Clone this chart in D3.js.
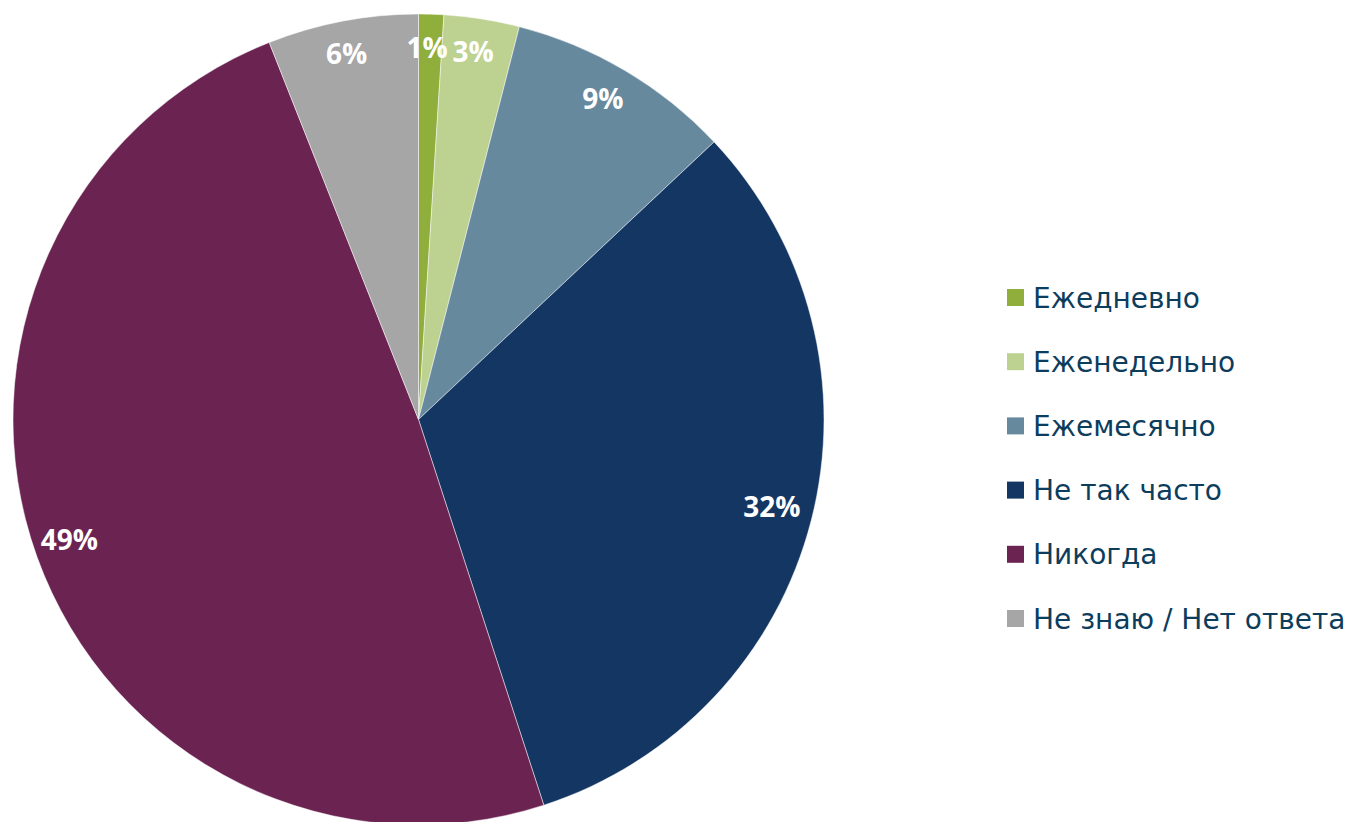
<!DOCTYPE html>
<html><head><meta charset="utf-8">
<script src="https://cdn.jsdelivr.net/npm/d3@7"></script>
<style>html,body{margin:0;padding:0;background:#fff;overflow:hidden}</style>
</head><body><svg id="c" width="1351" height="822"></svg>
<script>
const categories = ["Ежедневно","Еженедельно","Ежемесячно","Не так часто","Никогда","Не знаю / Нет ответа"];
const values = [1,3,9,32,49,6];
const labels = ["1%","3%","9%","32%","49%","6%"];
const colors = ["#8FAE3B","#BDD191","#66899E","#133663","#6B2452","#A6A6A6"];

const svg = d3.select("#c");
const cx = 418.5, cy = 419.5, R = 405.5;
const data = categories.map((c,i)=>({c, v:values[i], l:labels[i], col:colors[i]}));
const pie = d3.pie().sort(null).value(d=>d.v);
const arcs = pie(data);
const arc = d3.arc().innerRadius(0).outerRadius(R);
const labelArc = d3.arc().innerRadius(368).outerRadius(368);
const g = svg.append("g").attr("transform",`translate(${cx},${cy})`);
g.selectAll("path").data(arcs).join("path")
  .attr("d",arc).attr("fill",d=>d.data.col)
  .attr("stroke","#fff").attr("stroke-width",0.8).attr("stroke-opacity",0.6);
g.selectAll("text").data(arcs).join("text")
  .attr("transform",d=>{const p=labelArc.centroid(d);return `translate(${p[0]-3},${p[1]-4})`;})
  .attr("text-anchor","middle").attr("dy","0.36em")
  .attr("fill","#fff").attr("font-family","'Open Sans', sans-serif")
  .attr("font-weight","bold").attr("font-size",28)
  .text(d=>d.data.l);

const leg = svg.append("g");
const ly = d3.scalePoint().domain(categories).range([297.5,618.5]);
const items = leg.selectAll("g").data(data).join("g")
  .attr("transform",d=>`translate(1007,${ly(d.c)})`);
items.append("rect").attr("x",0).attr("y",-8.5).attr("width",17).attr("height",17).attr("fill",d=>d.col);
items.append("text").attr("x",26).attr("dy","0.36em")
  .attr("font-family","'DejaVu Sans', sans-serif").attr("font-size",28)
  .attr("fill","#0D3D5C").text(d=>d.c);
</script></body></html>
